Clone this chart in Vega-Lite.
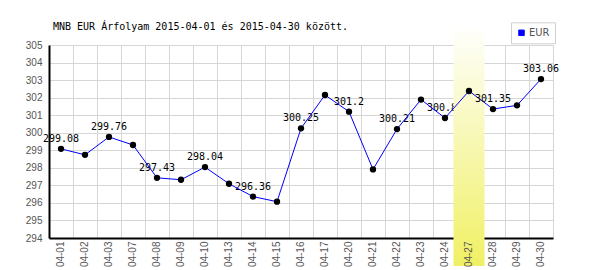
{
  "$schema": "https://vega.github.io/schema/vega-lite/v6.json",
  "width": 504,
  "height": 193,
  "autosize": {"type": "none"},
  "padding": {"left": 49, "top": 45, "right": 47, "bottom": 32},
  "background": "white",
  "title": {
    "text": "MNB EUR Árfolyam 2015-04-01 és 2015-04-30 között.",
    "anchor": "start",
    "frame": "group",
    "font": "DejaVu Sans Mono",
    "fontSize": 10,
    "fontWeight": "normal",
    "color": "#000000",
    "baseline": "alphabetic",
    "offset": -18,
    "dx": 4
  },
  "data": {
    "values": [
      {"d": "04-01", "v": 299.08, "lbl": "299.08"},
      {"d": "04-02", "v": 298.74, "lbl": null},
      {"d": "04-03", "v": 299.76, "lbl": "299.76"},
      {"d": "04-07", "v": 299.30, "lbl": null},
      {"d": "04-08", "v": 297.43, "lbl": "297.43"},
      {"d": "04-09", "v": 297.32, "lbl": null},
      {"d": "04-10", "v": 298.04, "lbl": "298.04"},
      {"d": "04-13", "v": 297.09, "lbl": null},
      {"d": "04-14", "v": 296.36, "lbl": "296.36"},
      {"d": "04-15", "v": 296.07, "lbl": null},
      {"d": "04-16", "v": 300.25, "lbl": "300.25"},
      {"d": "04-17", "v": 302.15, "lbl": null},
      {"d": "04-20", "v": 301.2, "lbl": "301.2"},
      {"d": "04-21", "v": 297.91, "lbl": null},
      {"d": "04-22", "v": 300.21, "lbl": "300.21"},
      {"d": "04-23", "v": 301.89, "lbl": null},
      {"d": "04-24", "v": 300.84, "lbl": "300.84"},
      {"d": "04-27", "v": 302.38, "lbl": null},
      {"d": "04-28", "v": 301.35, "lbl": "301.35"},
      {"d": "04-29", "v": 301.56, "lbl": null},
      {"d": "04-30", "v": 303.06, "lbl": "303.06"}
    ]
  },
  "encoding": {
    "y": {
      "field": "v", "type": "quantitative", "title": null,
      "scale": {"domain": [294, 305], "nice": false, "zero": false},
      "axis": {"values": [294, 295, 296, 297, 298, 299, 300, 301, 302, 303, 304, 305], "labelOverlap": false, "grid": true, "gridColor": "#d6d6d6", "gridWidth": 1, "ticks": false, "domainColor": "#000000", "domainWidth": 2, "labelFont": "Liberation Sans", "labelFontSize": 10, "labelColor": "#555555", "labelPadding": 7, "zindex": 0}
    }
  },
  "resolve": {"axis": {"x": "independent"}},
  "layer": [
    {
      "transform": [{"filter": "datum.lbl != null && datum.d < '04-27'"}],
      "mark": {"type": "text", "font": "DejaVu Sans Mono", "fontSize": 10, "color": "#000000", "baseline": "alphabetic", "dy": -7},
      "encoding": {
        "x": {
          "field": "d", "type": "ordinal", "sort": "ascending",
          "scale": {"type": "band", "paddingInner": 0, "paddingOuter": 0},
          "axis": {"orient": "bottom", "title": null, "grid": true, "gridColor": "#d6d6d6", "gridWidth": 1, "tickBand": "extent", "labels": false, "ticks": false, "domain": true, "domainColor": "#000000", "domainWidth": 2, "zindex": 0}
        },
        "text": {"field": "lbl", "type": "nominal"}
      }
    },
    {
      "transform": [{"filter": "datum.d == '04-27'"}],
      "mark": {
        "type": "bar", "width": 31,
        "fill": {"gradient": "linear", "x1": 0, "y1": 0, "x2": 0, "y2": 1, "stops": [{"offset": 0, "color": "#ffffff"}, {"offset": 1, "color": "#f0f064"}]}
      },
      "encoding": {
        "x": {"field": "d", "type": "ordinal", "sort": "ascending", "axis": null},
        "y": {"datum": 306.2, "type": "quantitative", "title": null,
          "axis": {"values": [294, 295, 296, 297, 298, 299, 300, 301, 302, 303, 304, 305], "labelOverlap": false, "grid": true, "gridColor": "#d6d6d6", "gridWidth": 1, "ticks": false, "domainColor": "#000000", "domainWidth": 2, "labelFont": "Liberation Sans", "labelFontSize": 10, "labelColor": "#555555", "labelPadding": 7, "zindex": 0}},
        "y2": {"datum": 292.4}
      }
    },
    {
      "mark": {"type": "line", "strokeWidth": 1},
      "encoding": {
        "x": {"field": "d", "type": "ordinal", "sort": "ascending", "axis": null},
        "color": {
          "datum": "EUR",
          "scale": {"range": ["#0000ff"]},
          "legend": {"title": null, "orient": "none", "legendX": 462, "legendY": -22.7, "strokeColor": "#d0d0d0", "padding": 5, "fillColor": "#ffffff", "symbolType": "square", "symbolSize": 30, "symbolFillColor": "#0000ff", "symbolStrokeColor": "#000080", "symbolStrokeWidth": 1, "labelFont": "Liberation Sans Narrow, DejaVu Sans Condensed, Liberation Sans", "labelFontSize": 11, "labelColor": "#555555", "labelOffset": 2}
        }
      }
    },
    {
      "mark": {"type": "circle", "size": 40, "color": "#000000", "opacity": 1},
      "encoding": {
        "x": {"field": "d", "type": "ordinal", "sort": "ascending", "axis": null}
      }
    },
    {
      "transform": [{"filter": "datum.lbl != null && datum.d > '04-27'"}],
      "mark": {"type": "text", "font": "DejaVu Sans Mono", "fontSize": 10, "color": "#000000", "baseline": "alphabetic", "dy": -7},
      "encoding": {
        "x": {
          "field": "d", "type": "ordinal", "sort": "ascending",
          "axis": {"orient": "bottom", "title": null, "grid": false, "labels": true, "ticks": false, "domain": false, "labelAngle": 270, "labelAlign": "right", "labelBaseline": "middle", "labelFont": "Liberation Sans", "labelFontSize": 10, "labelColor": "#555555", "labelPadding": 3, "zindex": 1}
        },
        "text": {"field": "lbl", "type": "nominal"}
      }
    }
  ],
  "config": {"view": {"stroke": null}}
}
